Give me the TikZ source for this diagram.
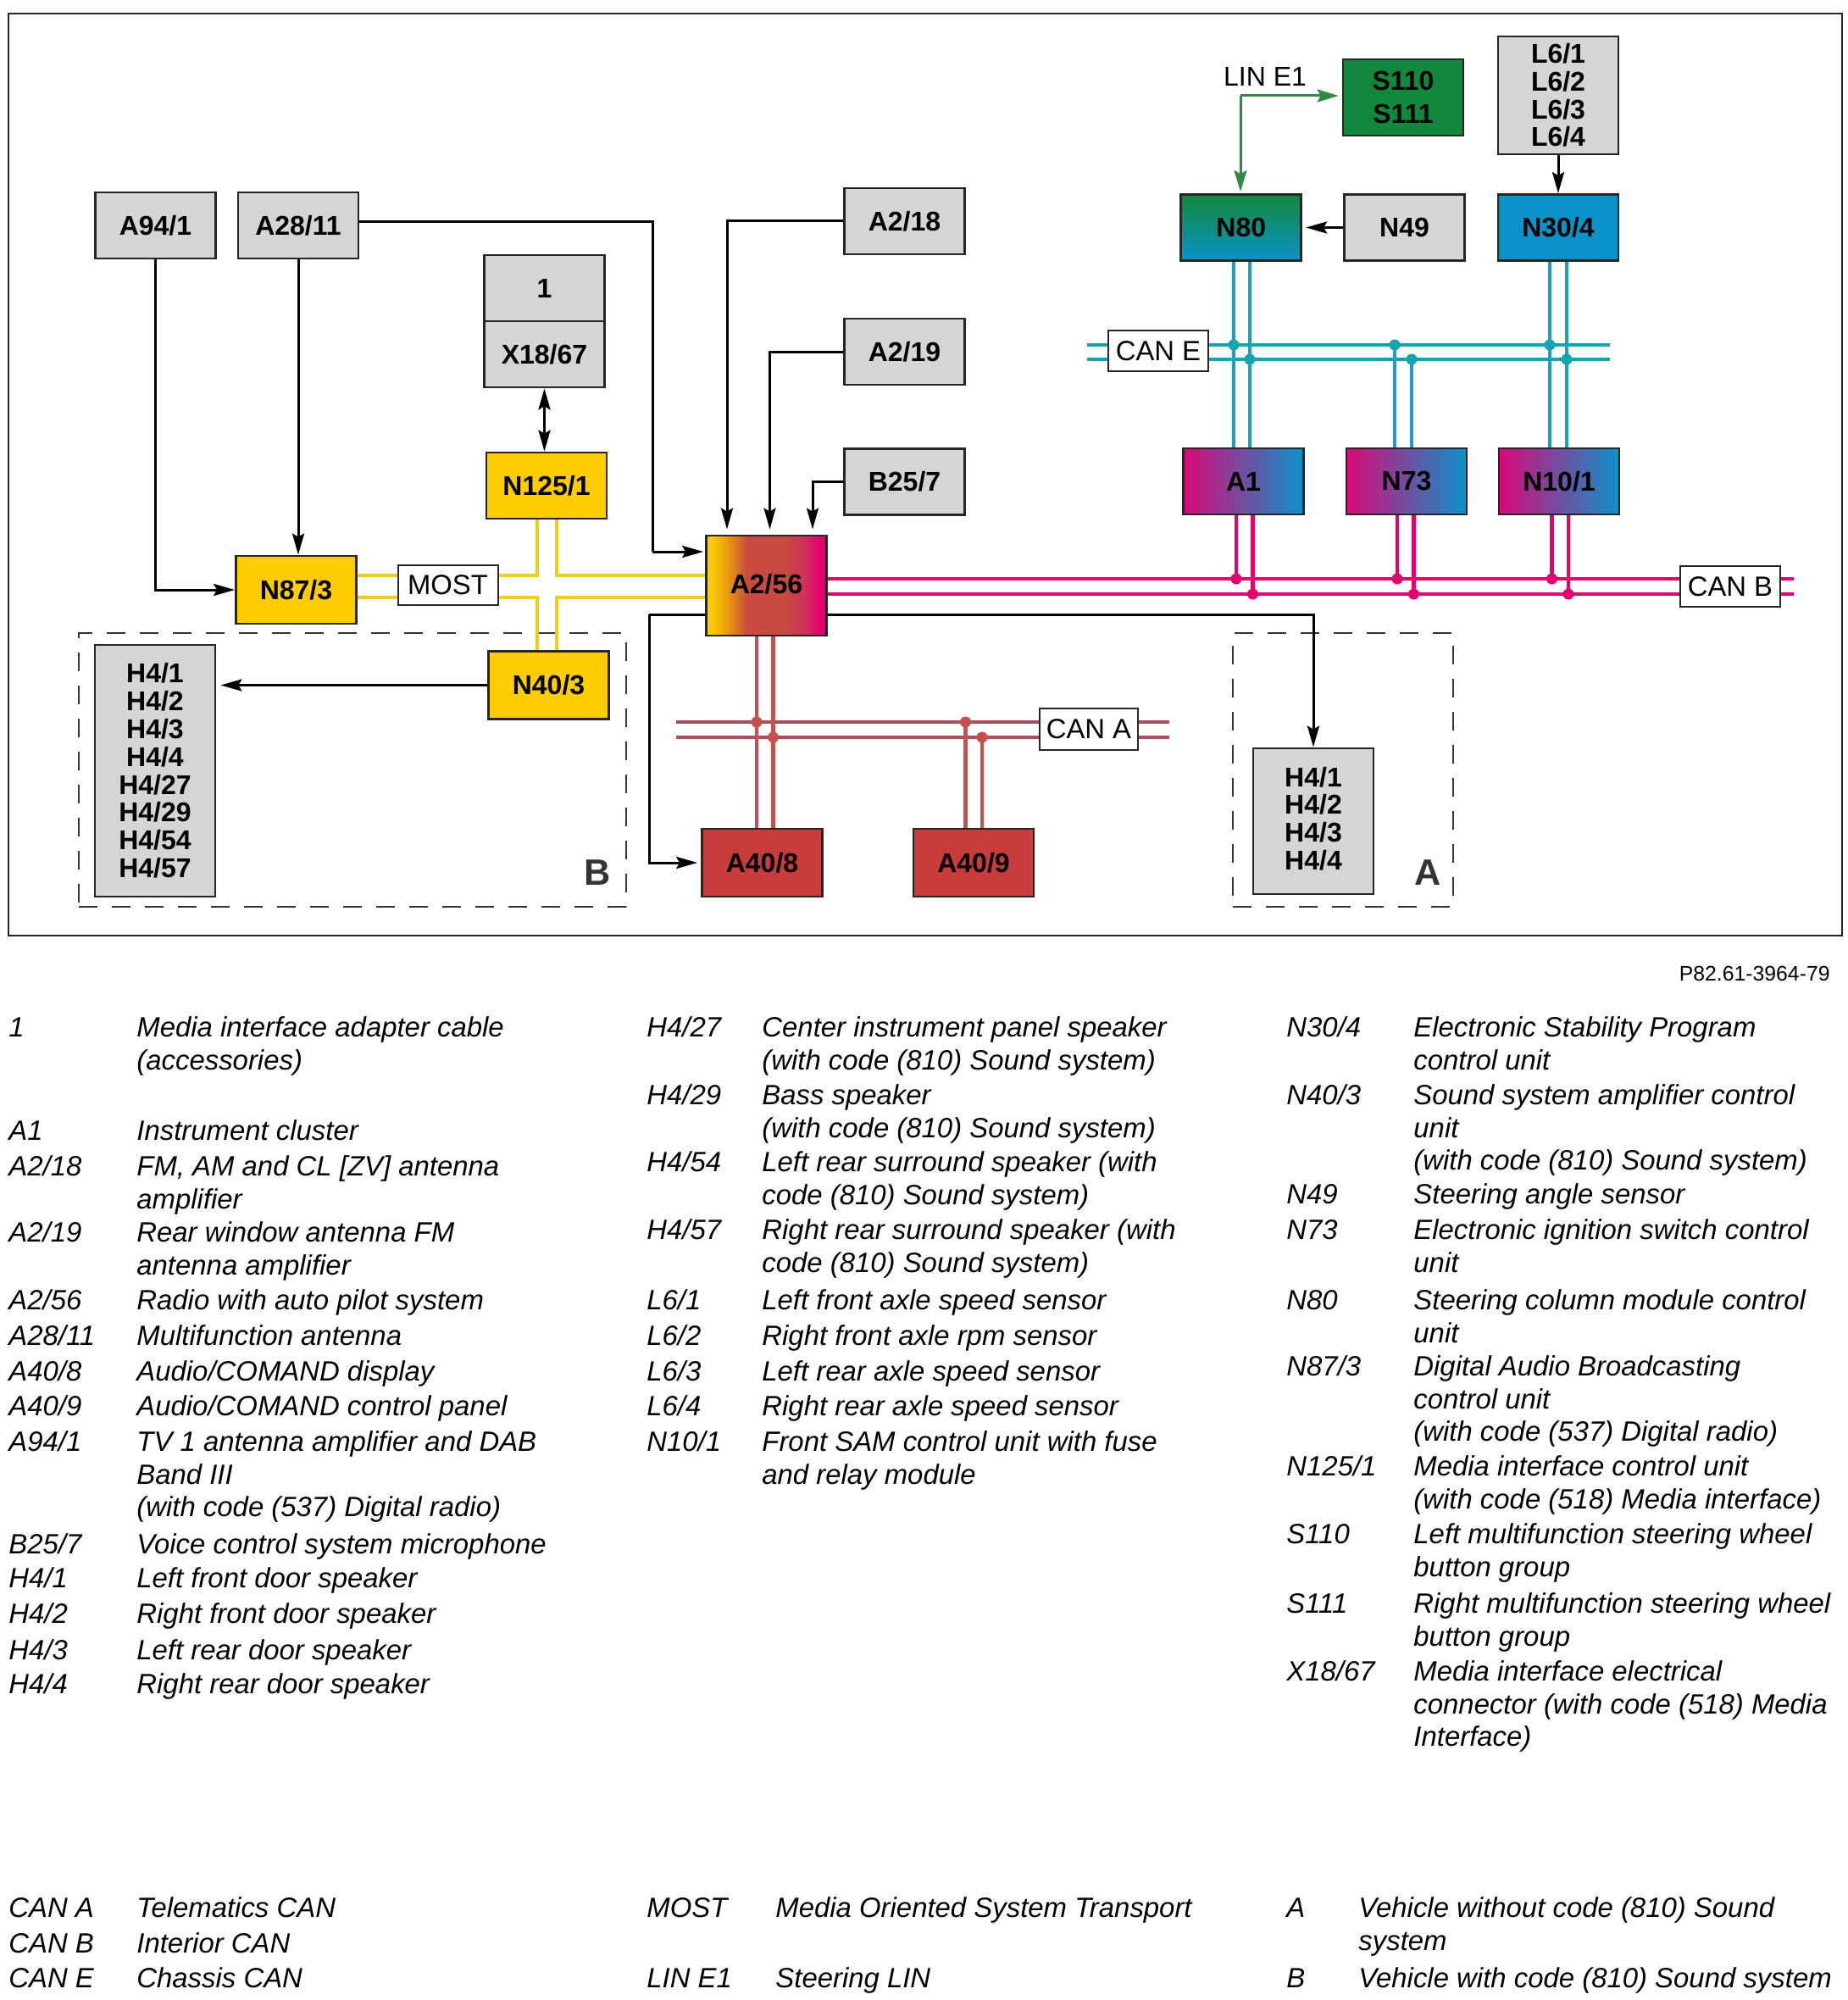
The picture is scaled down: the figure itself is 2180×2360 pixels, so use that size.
\documentclass[tikz,border=0pt]{standalone}
\usepackage{fontspec}
\setmainfont{Liberation Sans}
\usetikzlibrary{arrows.meta,positioning,calc}
\definecolor{boxgray}{HTML}{D5D5D5}
\definecolor{unityellow}{HTML}{FFCC00}
\definecolor{unitred}{HTML}{C83C3C}
\definecolor{unitgreen}{HTML}{12883C}
\definecolor{unitblue}{HTML}{0A93C9}
\definecolor{unitmagenta}{HTML}{D80A78}
\definecolor{linegreen}{HTML}{2E8B47}
\definecolor{canecol}{HTML}{14A5AE}
\definecolor{caneup}{HTML}{1E9CCB}
\definecolor{canbcol}{HTML}{E4006E}
\definecolor{canacol}{HTML}{A85060}
\definecolor{canaup}{HTML}{C8504C}
\definecolor{mostcol}{HTML}{F2CC1A}
\definecolor{radioorange}{HTML}{E89A10}
\definecolor{radiomid}{HTML}{C84A40}
\definecolor{radiopink}{HTML}{D0305A}
\pgfdeclarehorizontalshading{radioshade}{100bp}{color(0bp)=(unityellow); color(27bp)=(unityellow); color(34bp)=(radioorange); color(42bp)=(radiomid); color(58bp)=(radiomid); color(66bp)=(radiopink); color(72bp)=(canbcol); color(100bp)=(canbcol)}
\begin{document}
\begin{tikzpicture}[
  x=0.5pt, y=-0.5pt,
  unit/.style={draw=black!85, line width=1.4pt, minimum width=71pt, minimum height=39pt, inner sep=0pt,
    font=\fontsize{16}{16.4}\selectfont\bfseries, align=center},
  grayunit/.style={unit, fill=boxgray},
  yellowunit/.style={unit, fill=unityellow},
  redunit/.style={unit, fill=unitred},
  cbunit/.style={unit, left color=unitmagenta, middle color=black!20!blue!50!unitmagenta, right color=unitblue},
  buslabel/.style={draw=black!85, fill=white, line width=1pt, inner sep=0pt, font=\fontsize{16.4}{18}\selectfont},
  arr/.style={line width=1.5pt, -{Stealth[length=12.5pt,width=7pt,inset=2pt]}},
  wire/.style={line width=1.5pt},
  greenarr/.style={line width=1.5pt, draw=linegreen, -{Stealth[length=12.5pt,width=7.5pt,inset=2pt]}},
  caneline/.style={draw=canecol, line width=2.2pt},
  caneup/.style={draw=caneup, line width=2.2pt},
  canbline/.style={draw=canbcol, line width=2.2pt},
  canaline/.style={draw=canacol, line width=2.2pt},
  canaupl/.style={draw=canaup, line width=2.2pt},
  mostline/.style={draw=mostcol, line width=2.2pt},
  dote/.style={circle, fill=canecol, inner sep=0pt, minimum size=6.5pt},
  dotb/.style={circle, fill=canbcol, inner sep=0pt, minimum size=6.5pt},
  dota/.style={circle, fill=canaup, inner sep=0pt, minimum size=6.5pt},
  group/.style={draw=black!80, line width=1.3pt, dash pattern=on 11pt off 8.5pt},
  grouplabel/.style={font=\fontsize{21.6}{24}\selectfont\bfseries, text=black!80, inner sep=0pt},
  key/.style={anchor=north west, inner sep=0pt, align=left, font=\fontsize{16.45}{19.2}\selectfont\itshape, execute at begin node=\strut},
  keym/.style={key, yshift=-1.75pt}
]
\useasboundingbox (0,0) rectangle (2180,2360);
\draw[line width=1pt, draw=black!85] (10,16) rectangle (2174,1104);

% dashed groups
\node[group, minimum width=323pt, minimum height=161.5pt] (grpB) at (416,908.5) {};
\node[group, minimum width=130pt, minimum height=161.5pt] (grpA) at (1585,908.5) {};
\node[grouplabel] (lblB) at (705,1030) {B};
\node[grouplabel] (lblA) at (1685,1030) {A};

% units
\node[grayunit] (A941) at (183.5,266) {A94/1};
\node[grayunit] (A2811) at (352,266) {A28/11};
\node[grayunit] (adp) at (642.5,340) {1};
\node[grayunit] (X1867) at (642.5,418) {X18/67};
\node[yellowunit] (N1251) at (645,573) {N125/1};
\node[yellowunit, minimum height=40pt] (N873) at (349.5,696) {N87/3};
\node[yellowunit, minimum height=40pt] (N403) at (647.5,808.5) {N40/3};
\node[grayunit, minimum height=148.5pt] (HB) at (183,909.5) {H4/1\\H4/2\\H4/3\\H4/4\\H4/27\\H4/29\\H4/54\\H4/57};
\node[grayunit] (A218) at (1067.5,261) {A2/18};
\node[grayunit] (A219) at (1067.5,415) {A2/19};
\node[grayunit] (B257) at (1067.5,568.5) {B25/7};
\node[unit, minimum height=59pt, shading=radioshade, text depth=2.5pt] (A256) at (904.5,691) {A2/56};
\node[redunit, minimum height=40pt] (A408) at (899.5,1018) {A40/8};
\node[redunit, minimum height=40pt] (A409) at (1149,1018) {A40/9};
\node[grayunit, minimum height=86pt, text depth=3.3pt] (HA) at (1550,969) {H4/1\\H4/2\\H4/3\\H4/4};
\node[unit, top color=unitgreen, middle color=unitgreen!70!unitblue, bottom color=unitblue] (N80) at (1464.75,268.5) {N80};
\node[grayunit] (N49) at (1657.5,268.5) {N49};
\node[unit, fill=unitblue] (N304) at (1839,268.5) {N30/4};
\node[unit, fill=unitgreen, minimum height=45pt, font=\fontsize{16}{19.5}\selectfont\bfseries] (S110) at (1656,115) {S110\\S111};
\node[grayunit, minimum height=69.5pt] (L6) at (1839,112.5) {L6/1\\L6/2\\L6/3\\L6/4};
\node[cbunit] (A1) at (1467.5,568) {A1};
\node[cbunit] (N73) at (1660,568) {N73};
\node[cbunit] (N101) at (1840,568) {N10/1};

% bus ends
\coordinate (ceT) at (1283,407);
\coordinate (ceB) at (1283,424);
\coordinate (ceTr) at (1900,407);
\coordinate (ceBr) at (1900,424);
\coordinate (cbT) at (2117,683);
\coordinate (cbB) at (2117,701);
\coordinate (caT) at (798,852);
\coordinate (caB) at (798,870);
\coordinate (caTr) at (1380,852);
\coordinate (caBr) at (1380,870);
\coordinate (mostUL) at (634,679);
\coordinate (mostUR) at (657,679);
\coordinate (mostDL) at (634,705);
\coordinate (mostDR) at (657,705);

% MOST
\draw[mostline] (N873.east |- mostUL) -- (mostUL) -- (mostUL |- N1251.south);
\draw[mostline] (A256.west |- mostUR) -- (mostUR) -- (mostUR |- N1251.south);
\draw[mostline] (N873.east |- mostDL) -- (mostDL) -- (mostDL |- N403.north);
\draw[mostline] (A256.west |- mostDR) -- (mostDR) -- (mostDR |- N403.north);

% CAN E
\draw[caneup] ([xshift=-4.4pt]N80.south) -- ([xshift=-4.4pt]N80.south |- A1.north);
\draw[caneup] ([xshift=5.1pt]N80.south) -- ([xshift=5.1pt]N80.south |- A1.north);
\draw[caneup] ([xshift=-5pt]N304.south) -- ([xshift=-5pt]N304.south |- N101.north);
\draw[caneup] ([xshift=5pt]N304.south) -- ([xshift=5pt]N304.south |- N101.north);
\draw[caneup] ([xshift=-7pt]N73.north) -- ([xshift=-7pt]N73.north |- ceT);
\draw[caneup] ([xshift=3pt]N73.north) -- ([xshift=3pt]N73.north |- ceB);
\draw[caneline] (ceT) -- (ceTr);
\draw[caneline] (ceB) -- (ceBr);
\node[dote] (de1) at ([xshift=-4.4pt]N80.south |- ceT) {};
\node[dote] (de2) at ([xshift=5.1pt]N80.south |- ceB) {};
\node[dote] (de3) at ([xshift=-7pt]N73.north |- ceT) {};
\node[dote] (de4) at ([xshift=3pt]N73.north |- ceB) {};
\node[dote] (de5) at ([xshift=-5pt]N304.south |- ceT) {};
\node[dote] (de6) at ([xshift=5pt]N304.south |- ceB) {};
\node[buslabel, minimum width=59pt, minimum height=24pt] (canE) at (1367,414) {CAN E};

% CAN B
\draw[canbline] (A256.east |- cbT) -- (cbT);
\draw[canbline] (A256.east |- cbB) -- (cbB);
\draw[canbline] ([xshift=-4.25pt]A1.south) -- ([xshift=-4.25pt]A1.south |- cbT);
\draw[canbline] ([xshift=5.5pt]A1.south) -- ([xshift=5.5pt]A1.south |- cbB);
\draw[canbline] ([xshift=-5.5pt]N73.south) -- ([xshift=-5.5pt]N73.south |- cbT);
\draw[canbline] ([xshift=4.25pt]N73.south) -- ([xshift=4.25pt]N73.south |- cbB);
\draw[canbline] ([xshift=-4.25pt]N101.south) -- ([xshift=-4.25pt]N101.south |- cbT);
\draw[canbline] ([xshift=5.5pt]N101.south) -- ([xshift=5.5pt]N101.south |- cbB);
\node[dotb] (db1) at ([xshift=-4.25pt]A1.south |- cbT) {};
\node[dotb] (db2) at ([xshift=5.5pt]A1.south |- cbB) {};
\node[dotb] (db3) at ([xshift=-5.5pt]N73.south |- cbT) {};
\node[dotb] (db4) at ([xshift=4.25pt]N73.south |- cbB) {};
\node[dotb] (db5) at ([xshift=-4.25pt]N101.south |- cbT) {};
\node[dotb] (db6) at ([xshift=5.5pt]N101.south |- cbB) {};
\node[buslabel, minimum width=59pt, minimum height=24pt] (canB) at (2042,692) {CAN B};

% CAN A
\draw[canaline] (caT) -- (caTr);
\draw[canaline] (caB) -- (caBr);
\draw[canaupl] ([xshift=-5.75pt]A256.south) -- ([xshift=-5.75pt]A256.south |- A408.north);
\draw[canaupl] ([xshift=4pt]A256.south) -- ([xshift=4pt]A256.south |- A408.north);
\draw[canaupl] ([xshift=-4.75pt]A409.north) -- ([xshift=-4.75pt]A409.north |- caT);
\draw[canaupl] ([xshift=5pt]A409.north) -- ([xshift=5pt]A409.north |- caB);
\node[dota] (da1) at ([xshift=-5.75pt]A256.south |- caT) {};
\node[dota] (da2) at ([xshift=4pt]A256.south |- caB) {};
\node[dota] (da3) at ([xshift=-4.75pt]A409.north |- caT) {};
\node[dota] (da4) at ([xshift=5pt]A409.north |- caB) {};
\node[buslabel, minimum width=58pt, minimum height=24.5pt] (canA) at (1285,860.5) {CAN A};
\node[buslabel, minimum width=59pt, minimum height=23.5pt] (most) at (528.5,690.5) {MOST};

% LIN
\coordinate (linC) at (1464,113);
\draw[greenarr, shorten >=1pt] (linC) -- (linC |- N80.north);
\draw[greenarr, shorten >=2pt] (linC) -- (linC -| S110.west);
\node[inner sep=0pt, font=\fontsize{16}{18}\selectfont] (linE) at (1493,90) {LIN E1};

% signal wires
\draw[arr] (A941.south) |- (N873.west);
\draw[arr] (A2811.south) -- (A2811.south |- N873.north);
\coordinate (a2in) at (770,651);
\draw[wire] ([yshift=2pt]A2811.east) -| (a2in);
\draw[arr, shorten >=1pt] (a2in) -- (a2in -| A256.west);
\draw[arr, shorten >=3pt] (A218.west) -| ([xshift=-23.25pt]A256.north);
\draw[arr, shorten >=3pt] (A219.west) -| ([xshift=2pt]A256.north);
\draw[arr, shorten >=3pt] (B257.west) -| ([xshift=27.25pt]A256.north);
\draw[line width=1.5pt, {Stealth[length=12.5pt,width=7pt,inset=2pt]}-{Stealth[length=12.5pt,width=7pt,inset=2pt]}] (X1867.south) -- (X1867.south |- N1251.north);
\draw[arr, shorten >=2.5pt] (N403.west) -- (N403.west -| HB.east);
\coordinate (a2out) at (766,725);
\draw[wire] (A256.west |- a2out) -- (a2out);
\draw[arr, shorten >=2pt] (a2out) |- (A408.west);
\draw[arr] ([yshift=-17pt]A256.east) -| (HA.north);
\draw[arr] (L6.south) -- (L6.south |- N304.north);
\draw[arr, shorten >=2pt] (N49.west) -- (N80.east);

\node[inner sep=0pt, anchor=east, font=\fontsize{12.4}{14}\selectfont] (ref) at (2160,1149) {P82.61-3964-79};

% legend, first column
\node[key] (k1) at (10,1196) {1};
\node[keym] (t1) at (161,1196) {Media interface adapter cable\\(accessories)};
\node[key] (kA1) at (10,1318) {A1};
\node[key] (tA1) at (161,1318) {Instrument cluster};
\node[key] (kA218) at (10,1360) {A2/18};
\node[keym] (tA218) at (161,1360) {FM, AM and CL [ZV] antenna\\amplifier};
\node[key] (kA219) at (10,1438) {A2/19};
\node[keym] (tA219) at (161,1438) {Rear window antenna FM\\antenna amplifier};
\node[key] (kA256) at (10,1518) {A2/56};
\node[key] (tA256) at (161,1518) {Radio with auto pilot system};
\node[key] (kA2811) at (10,1560) {A28/11};
\node[key] (tA2811) at (161,1560) {Multifunction antenna};
\node[key] (kA408) at (10,1602) {A40/8};
\node[key] (tA408) at (161,1602) {Audio/COMAND display};
\node[key] (kA409) at (10,1643) {A40/9};
\node[key] (tA409) at (161,1643) {Audio/COMAND control panel};
\node[key] (kA941) at (10,1685) {A94/1};
\node[keym] (tA941) at (161,1685) {TV 1 antenna amplifier and DAB\\Band III\\(with code (537) Digital radio)};
\node[key] (kB257) at (10,1806) {B25/7};
\node[key] (tB257) at (161,1806) {Voice control system microphone};
\node[key] (kH41) at (10,1846) {H4/1};
\node[key] (tH41) at (161,1846) {Left front door speaker};
\node[key] (kH42) at (10,1888) {H4/2};
\node[key] (tH42) at (161,1888) {Right front door speaker};
\node[key] (kH43) at (10,1931) {H4/3};
\node[key] (tH43) at (161,1931) {Left rear door speaker};
\node[key] (kH44) at (10,1971) {H4/4};
\node[key] (tH44) at (161,1971) {Right rear door speaker};

% legend, second column
\node[key] (kH427) at (763,1196) {H4/27};
\node[keym] (tH427) at (899,1196) {Center instrument panel speaker\\(with code (810) Sound system)};
\node[key] (kH429) at (763,1276) {H4/29};
\node[keym] (tH429) at (899,1276) {Bass speaker\\(with code (810) Sound system)};
\node[key] (kH454) at (763,1355) {H4/54};
\node[keym] (tH454) at (899,1355) {Left rear surround speaker (with\\code (810) Sound system)};
\node[key] (kH457) at (763,1435) {H4/57};
\node[keym] (tH457) at (899,1435) {Right rear surround speaker (with\\code (810) Sound system)};
\node[key] (kL61) at (763,1518) {L6/1};
\node[key] (tL61) at (899,1518) {Left front axle speed sensor};
\node[key] (kL62) at (763,1560) {L6/2};
\node[key] (tL62) at (899,1560) {Right front axle rpm sensor};
\node[key] (kL63) at (763,1602) {L6/3};
\node[key] (tL63) at (899,1602) {Left rear axle speed sensor};
\node[key] (kL64) at (763,1643) {L6/4};
\node[key] (tL64) at (899,1643) {Right rear axle speed sensor};
\node[key] (kN101) at (763,1685) {N10/1};
\node[keym] (tN101) at (899,1685) {Front SAM control unit with fuse\\and relay module};

% legend, third column
\node[key] (kN304) at (1518,1196) {N30/4};
\node[keym] (tN304) at (1668,1196) {Electronic Stability Program\\control unit};
\node[key] (kN403) at (1518,1276) {N40/3};
\node[keym] (tN403) at (1668,1276) {Sound system amplifier control\\unit\\(with code (810) Sound system)};
\node[key] (kN49) at (1518,1393) {N49};
\node[key] (tN49) at (1668,1393) {Steering angle sensor};
\node[key] (kN73) at (1518,1435) {N73};
\node[keym] (tN73) at (1668,1435) {Electronic ignition switch control\\unit};
\node[key] (kN80) at (1518,1518) {N80};
\node[keym] (tN80) at (1668,1518) {Steering column module control\\unit};
\node[key] (kN873) at (1518,1596) {N87/3};
\node[keym] (tN873) at (1668,1596) {Digital Audio Broadcasting\\control unit\\(with code (537) Digital radio)};
\node[key] (kN1251) at (1518,1714) {N125/1};
\node[keym] (tN1251) at (1668,1714) {Media interface control unit\\(with code (518) Media interface)};
\node[key] (kS110) at (1518,1794) {S110};
\node[keym] (tS110) at (1668,1794) {Left multifunction steering wheel\\button group};
\node[key] (kS111) at (1518,1876) {S111};
\node[keym] (tS111) at (1668,1876) {Right multifunction steering wheel\\button group};
\node[key] (kX1867) at (1518,1956) {X18/67};
\node[keym] (tX1867) at (1668,1956) {Media interface electrical\\connector (with code (518) Media\\Interface)};

% legend, bus names
\node[key] (kCANA) at (10,2235) {CAN A};
\node[key] (tCANA) at (161,2235) {Telematics CAN};
\node[key] (kCANB) at (10,2277) {CAN B};
\node[key] (tCANB) at (161,2277) {Interior CAN};
\node[key] (kCANE) at (10,2318) {CAN E};
\node[key] (tCANE) at (161,2318) {Chassis CAN};
\node[key] (kMOST) at (763,2235) {MOST};
\node[key] (tMOST) at (915,2235) {Media Oriented System Transport};
\node[key] (kLIN) at (763,2318) {LIN E1};
\node[key] (tLIN) at (915,2318) {Steering LIN};
\node[key] (kA) at (1518,2235) {A};
\node[keym] (tA) at (1603,2235) {Vehicle without code (810) Sound\\system};
\node[key] (kB) at (1518,2318) {B};
\node[key] (tB) at (1603,2318) {Vehicle with code (810) Sound system};
\end{tikzpicture}
\end{document}
